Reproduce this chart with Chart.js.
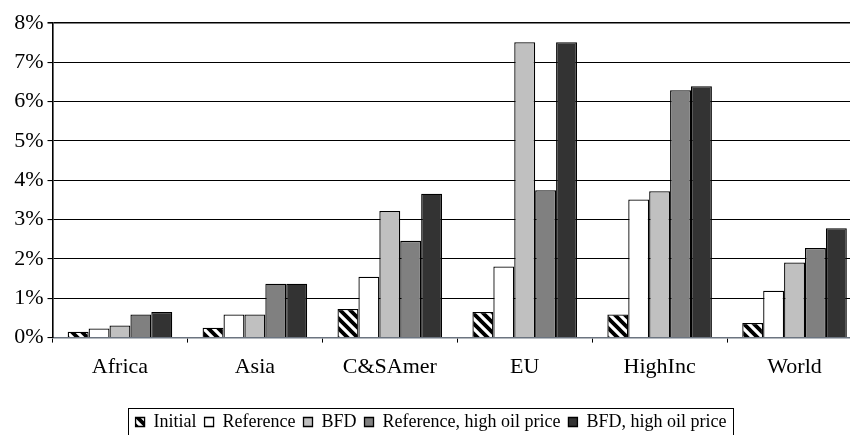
<!DOCTYPE html>
<html>
<head>
<meta charset="utf-8">
<script src="https://cdn.jsdelivr.net/npm/chart.js@4"></script>
<style>
  html, body { margin: 0; padding: 0; background: #fff; overflow: hidden; }
  #wrap { width: 862px; height: 441px; }
</style>
</head>
<body>
<div id="wrap"><canvas id="chart"></canvas></div>
<script>
// Data
const regions = ["Africa", "Asia", "C&SAmer", "EU", "HighInc", "World"];
const initial = [0.15, 0.25, 0.73, 0.65, 0.59, 0.37];
const reference = [0.23, 0.59, 1.55, 1.81, 3.51, 1.19];
const bfd = [0.31, 0.59, 3.22, 7.51, 3.72, 1.91];
const refHighOil = [0.59, 1.37, 2.46, 3.75, 6.29, 2.28];
const bfdHighOil = [0.65, 1.37, 3.66, 7.51, 6.39, 2.78];
const yTicks = [0, 1, 2, 3, 4, 5, 6, 7, 8];

const serif = "'Liberation Serif', 'Times New Roman', serif";

// hatch pattern for "Initial"
function makeHatch() {
  const size = 10;
  const c = document.createElement("canvas");
  c.width = size;
  c.height = size;
  const g = c.getContext("2d");
  g.fillStyle = "#fff";
  g.fillRect(0, 0, size, size);
  g.strokeStyle = "#000";
  g.lineWidth = 3.8;
  g.beginPath();
  g.moveTo(-2, -2); g.lineTo(size + 2, size + 2);
  g.moveTo(-2, size - 2); g.lineTo(2, size + 2);
  g.moveTo(size - 2, -2); g.lineTo(size + 2, 2);
  g.stroke();
  return g.createPattern(c, "repeat");
}
const hatch = makeHatch();

// border around the legend
const legendBorder = {
  id: "legendBorder",
  afterDraw(chart) {
    const lg = chart.legend;
    if (!lg || !lg.legendHitBoxes.length) return;
    const boxes = lg.legendHitBoxes;
    const left = Math.min(...boxes.map((b) => b.left)) - 8;
    const right = Math.max(...boxes.map((b) => b.left + b.width)) + 6;
    const top = boxes[0].top - 5;
    const bottom = boxes[0].top + boxes[0].height + 5;
    const ctx = chart.ctx;
    ctx.save();
    ctx.strokeStyle = "#000";
    ctx.lineWidth = 1;
    ctx.strokeRect(Math.round(left) + 0.5, Math.round(top) + 0.5, Math.round(right - left), Math.round(bottom - top));
    ctx.restore();
  },
};

function series(label, data, color) {
  return {
    label,
    data,
    backgroundColor: color,
    borderColor: "#000",
    borderWidth: 1.3,
    borderSkipped: "bottom",
    categoryPercentage: 0.775,
    barPercentage: 1.0,
  };
}

new Chart(document.getElementById("chart"), {
  type: "bar",
  data: {
    labels: regions,
    datasets: [
      series("Initial", initial, hatch),
      series("Reference", reference, "#ffffff"),
      series("BFD", bfd, "#c0c0c0"),
      series("Reference, high oil price", refHighOil, "#808080"),
      series("BFD, high oil price", bfdHighOil, "#333333"),
    ],
  },
  options: {
    responsive: true,
    maintainAspectRatio: false,
    animation: false,
    layout: { padding: { top: 23, right: 0, bottom: 0, left: 0 } },
    plugins: {
      tooltip: { enabled: false },
      legend: {
        position: "bottom",
        labels: {
          font: { family: serif, size: 18 },
          color: "#000",
          boxWidth: 9,
          boxHeight: 9,
          padding: 8,
        },
      },
    },
    scales: {
      x: {
        grid: {
          offset: true,
          drawOnChartArea: false,
          drawTicks: true,
          tickLength: 5,
          color: "#000",
        },
        border: { color: "#6b7480", width: 1.5 },
        ticks: {
          font: { family: serif, size: 22 },
          color: "#000",
          padding: 11,
        },
        afterFit(scale) {
          scale.height += 14;
        },
      },
      y: {
        min: 0,
        max: 8,
        afterBuildTicks(scale) {
          scale.ticks = yTicks.map((v) => ({ value: v }));
        },
        afterFit(scale) {
          scale.width = 52.5;
        },
        grid: {
          color: (c) => (c.tick && c.tick.value === 0 ? "#6b7480" : "#000"),
          lineWidth: (c) => (c.tick && c.tick.value === 8 ? 1.6 : 1.1),
          tickLength: 5,
          tickColor: "#000",
        },
        border: { color: "#000", width: 1.6 },
        ticks: {
          font: { family: serif, size: 22 },
          color: "#000",
          padding: 4,
          callback: (v) => v + "%",
        },
      },
    },
  },
  plugins: [legendBorder],
});
</script>
</body>
</html>
